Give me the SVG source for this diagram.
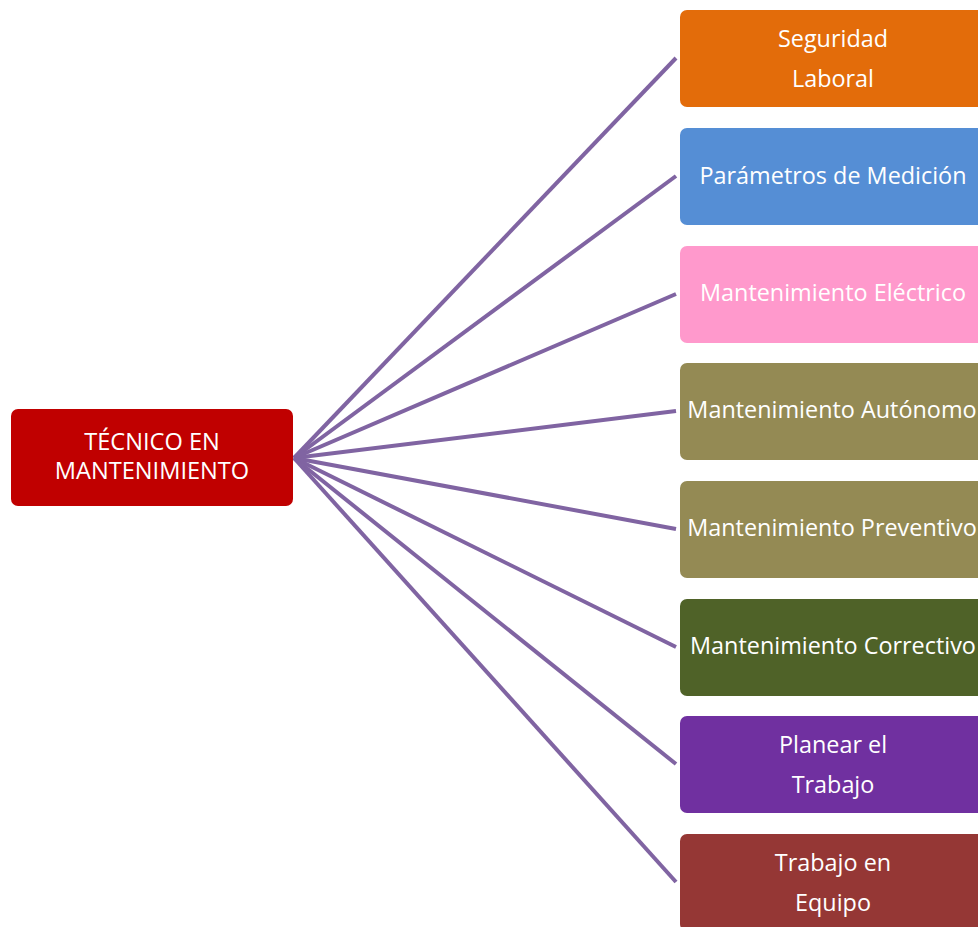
<svg xmlns="http://www.w3.org/2000/svg" width="978" height="927" viewBox="0 0 978 927">
<style>
text{font-family:"Open Sans","Liberation Sans",Arial,sans-serif;fill:#fff;text-anchor:middle}
.r{font-size:23.6px}
.n{font-size:23.4px}
.c{stroke:#8064A2;stroke-width:4;fill:none;stroke-linecap:butt}
</style>
<rect width="978" height="927" fill="#fff"/>
<g id="connectors">
<line class="c" x1="294" y1="458" x2="676" y2="58"/>
<line class="c" x1="294" y1="458" x2="676" y2="176"/>
<line class="c" x1="294" y1="458" x2="676" y2="294"/>
<line class="c" x1="294" y1="458" x2="676" y2="411"/>
<line class="c" x1="294" y1="458" x2="676" y2="529"/>
<line class="c" x1="294" y1="458" x2="676" y2="647"/>
<line class="c" x1="294" y1="458" x2="676" y2="764"/>
<line class="c" x1="294" y1="458" x2="676" y2="882"/>
</g>
<g id="root">
<rect x="11" y="409" width="282" height="97" rx="7" fill="#C00000"/>
<text class="r" x="152" y="450">TÉCNICO EN</text>
<text class="r" x="152" y="479">MANTENIMIENTO</text>
</g>
<g id="n1">
<rect x="680" y="10" width="305" height="97" rx="7" fill="#E36C0A"/>
<text class="n" x="833" y="47">Seguridad</text>
<text class="n" x="833" y="87">Laboral</text>
</g>
<g id="n2">
<rect x="680" y="128" width="305" height="97" rx="7" fill="#558ED5"/>
<text class="n" x="833" y="184">Parámetros de Medición</text>
</g>
<g id="n3">
<rect x="680" y="246" width="305" height="97" rx="7" fill="#FF99CC"/>
<text class="n" x="833" y="301">Mantenimiento Eléctrico</text>
</g>
<g id="n4">
<rect x="680" y="363" width="305" height="97" rx="7" fill="#948A54"/>
<text class="n" x="832" y="418">Mantenimiento Autónomo</text>
</g>
<g id="n5">
<rect x="680" y="481" width="305" height="97" rx="7" fill="#948A54"/>
<text class="n" x="832" y="536">Mantenimiento Preventivo</text>
</g>
<g id="n6">
<rect x="680" y="599" width="305" height="97" rx="7" fill="#4F6228"/>
<text class="n" x="833" y="654">Mantenimiento Correctivo</text>
</g>
<g id="n7">
<rect x="680" y="716" width="305" height="97" rx="7" fill="#7030A0"/>
<text class="n" x="833" y="753">Planear el</text>
<text class="n" x="833" y="793">Trabajo</text>
</g>
<g id="n8">
<rect x="680" y="834" width="305" height="97" rx="7" fill="#953735"/>
<text class="n" x="833" y="871">Trabajo en</text>
<text class="n" x="833" y="911">Equipo</text>
</g>
</svg>
